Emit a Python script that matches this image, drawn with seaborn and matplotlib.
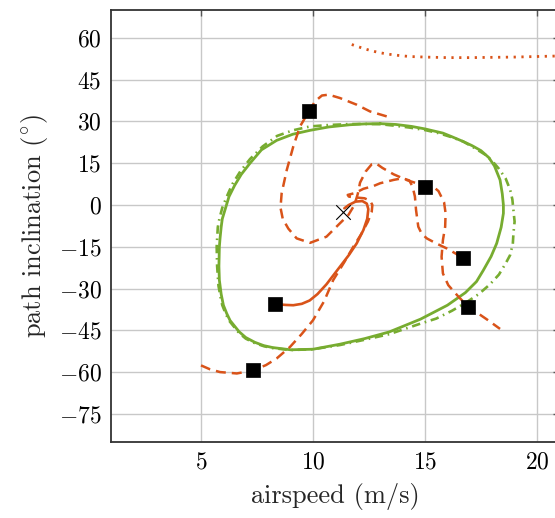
import numpy as np
import pandas as pd
import matplotlib
matplotlib.use("Agg")
import matplotlib.pyplot as plt
import seaborn as sns

# ---------------- data ----------------
green_solid_x = [13.0, 12.3, 11.65, 10.7, 9.87, 9.1, 8.38, 7.7, 7.19, 6.8, 6.5, 6.25, 6.1, 5.95,
                 5.9, 5.85, 5.82, 5.8, 5.82, 5.9, 6.0, 6.15, 6.3, 6.7, 7.0, 7.4, 7.8, 8.2, 9.0,
                 10.0, 11.2, 12.3, 13.4, 14.8, 16.0, 16.8, 17.3, 17.6, 17.95, 18.2, 18.4, 18.5,
                 18.5, 18.45, 18.35, 18.1, 17.85, 17.5, 17.1, 16.7, 16.2, 15.8, 15.0, 14.4, 13.7, 13.0]
green_solid_y = [29.2, 29.1, 28.8, 28.0, 26.8, 25.4, 23.2, 19.8, 15.0, 11.0, 7.0, 3.0, -1.0, -5.0,
                 -8.0, -12.0, -15.0, -22.0, -27.0, -32.0, -36.0, -39.0, -41.5, -45.5, -47.6, -49.3,
                 -50.5, -51.2, -52.0, -51.8, -50.0, -48.0, -45.6, -41.0, -36.0, -31.5, -27.5, -23.5,
                 -18.5, -13.8, -8.0, -3.0, 0.0, 4.0, 9.0, 14.0, 17.0, 19.5, 21.3, 22.8, 24.5, 25.8,
                 27.3, 28.2, 28.9, 29.2]

green_dd_x = [13.0, 12.2, 11.5, 10.7, 9.87, 9.1, 8.4, 7.75, 7.19, 6.75, 6.4, 6.15, 5.95, 5.82,
              5.75, 5.7, 5.72, 5.78, 5.87, 5.95, 6.1, 6.25, 6.7, 7.0, 7.4, 7.8, 8.2, 9.0, 10.0,
              11.2, 12.3, 13.4, 14.8, 15.5, 16.2, 16.8, 17.4, 17.9, 18.3, 18.6, 18.8, 18.92,
              18.95, 19.0, 18.95, 18.9, 18.8, 18.6, 18.3, 18.0, 17.7, 17.2, 16.7, 16.2, 15.6,
              15.0, 14.3, 13.6, 13.0]
green_dd_y = [29.0, 29.1, 29.0, 28.7, 28.2, 26.8, 24.8, 21.0, 16.5, 12.0, 7.5, 3.0, -1.0, -5.0,
              -8.0, -15.0, -22.0, -29.0, -33.0, -36.0, -39.0, -41.5, -46.0, -48.0, -49.6, -50.7,
              -51.4, -52.1, -51.8, -50.3, -48.4, -46.4, -42.6, -40.8, -38.0, -35.2, -32.0, -28.5,
              -25.0, -21.0, -18.0, -14.0, -10.0, -6.0, -2.0, 2.0, 5.5, 9.5, 13.0, 15.8, 18.0,
              20.5, 22.8, 24.3, 25.8, 26.9, 27.8, 28.5, 29.0]

orange_solid_x = [8.30, 8.8, 9.12, 9.5, 9.85, 10.2, 10.6, 11.2, 11.6, 11.95, 12.25, 12.42, 12.47,
                  12.4, 12.2, 11.9, 11.6, 11.4]
orange_solid_y = [-35.6, -35.9, -36.0, -35.5, -34.3, -32.0, -28.5, -22.2, -18.0, -13.8, -9.0, -5.0, -1.5,
                  0.5, 1.4, 1.2, 0.0, -1.2]

dashed_a_x = [5.0, 5.4, 5.85, 6.6, 7.33, 7.9, 8.38, 8.97, 9.5, 10.0, 10.5, 10.9, 11.4, 11.8, 12.15,
              12.45, 12.62, 12.65, 12.55, 12.3, 11.9, 11.6, 11.55, 11.88, 12.25, 12.7, 13.0, 13.6,
              14.0, 14.3, 14.45, 14.55, 14.6, 14.7, 14.85, 15.08, 15.5, 15.97, 16.4, 16.68]
dashed_a_y = [-57.6, -59.0, -60.0, -60.5, -59.4, -57.5, -55.1, -51.0, -46.3, -41.4, -34.5, -27.0, -20.5,
              -15.0, -10.5, -6.0, -2.5, 0.0, 1.5, 2.4, 2.7, 3.0, 3.6, 4.3, 5.8, 6.8, 7.8, 9.0,
              9.6, 8.8, 6.5, 3.0, -1.8, -7.8, -10.3, -12.0, -13.8, -15.6, -17.6, -19.2]

dashed_b_x = [13.29, 12.54, 11.95, 11.2, 10.7, 10.4, 10.09, 9.84, 9.42, 9.12, 8.83, 8.6, 8.55, 8.65,
              8.9, 9.27, 9.87, 10.6, 11.2, 11.58, 11.85, 12.0, 12.1, 12.35, 12.62, 12.8, 13.1, 13.6,
              14.2, 14.7, 15.0, 15.3, 15.6, 15.85, 15.92, 15.9, 15.8, 15.74, 15.8, 16.04, 16.5,
              16.94, 17.2, 17.8, 18.35]
dashed_b_y = [31.8, 33.6, 36.0, 38.4, 39.6, 39.3, 37.2, 33.9, 28.2, 21.0, 12.6, 4.2, -1.0, -5.0,
              -8.5, -12.0, -13.6, -11.4, -6.6, -3.6, 0.0, 4.0, 8.0, 12.0, 14.6, 15.0, 13.3, 11.0,
              8.9, 7.6, 7.3, 7.0, 5.0, 1.0, -3.0, -7.8, -12.6, -18.6, -24.6, -28.8, -33.0,
              -36.6, -38.0, -41.3, -44.5]

dotted_x = [11.73, 12.1, 12.5, 12.9, 13.3, 13.8, 14.3, 15.0, 16.0, 17.0, 18.0, 19.0, 20.0, 21.0]
dotted_y = [57.6, 56.6, 55.6, 54.8, 54.2, 53.7, 53.3, 53.1, 52.9, 52.9, 53.0, 53.1, 53.3, 53.5]

square_x = [9.84, 15.0, 16.68, 16.94, 8.30, 7.33]
square_y = [33.9, 6.4, -19.2, -36.6, -35.6, -59.4]

cross_x = [11.35]
cross_y = [-2.4]

x_ticks = [5, 10, 15, 20]
y_ticks = [60, 45, 30, 15, 0, -15, -30, -45, -60, -75]

ORANGE = "#D95319"
GREEN = "#77AC30"

# ---------------- style ----------------
sns.set_style("whitegrid", {"grid.color": "#c8c8c8", "axes.edgecolor": "#333333"})
plt.rcParams["font.family"] = ["cmr10"]
plt.rcParams["mathtext.fontset"] = "cm"
plt.rcParams["axes.formatter.use_mathtext"] = True
plt.rcParams["axes.unicode_minus"] = True

fig = plt.figure(figsize=(5.55, 5.18), dpi=100)
ax = fig.add_axes([111.4 / 555, (518 - 441.7) / 518, 448 / 555, 431.7 / 518])

def line(xs, ys, **kw):
    df = pd.DataFrame({"x": xs, "y": ys})
    sns.lineplot(data=df, x="x", y="y", sort=False, estimator=None, ax=ax, **kw)

line(green_dd_x, green_dd_y, color=GREEN, lw=1.9, linestyle=(0, (3.2, 1.8, 0.6, 1.8)), zorder=3)
line(green_solid_x, green_solid_y, color=GREEN, lw=2.0, zorder=3)
line(dashed_a_x, dashed_a_y, color=ORANGE, lw=1.8, linestyle=(0, (4.0, 2.4)), zorder=4)
line(dashed_b_x, dashed_b_y, color=ORANGE, lw=1.8, linestyle=(0, (4.0, 2.4)), zorder=4)
line(orange_solid_x, orange_solid_y, color=ORANGE, lw=1.9, zorder=4)
line(dotted_x, dotted_y, color=ORANGE, lw=2.0, linestyle=(0, (0.8, 2.0)), zorder=4)

sns.scatterplot(x=square_x, y=square_y, marker="s", s=90, color="black",
                edgecolor="black", linewidth=0.5, zorder=6, ax=ax)
sns.scatterplot(x=cross_x, y=cross_y, marker="x", s=110, color="black",
                linewidth=0.8, zorder=7, ax=ax)

ax.set_xlim(1, 21)
ax.set_ylim(-85, 70)
ax.set_xticks(x_ticks)
ax.set_yticks(y_ticks)
ax.grid(True, color="#c8c8c8", lw=1.0)
ax.tick_params(direction="in", length=4, width=1, color="#555555", labelcolor="black",
               top=True, right=True, labelsize=17, pad=7)
for s in ax.spines.values():
    s.set_color("#333333")
    s.set_linewidth(1.3)

ax.set_xlabel("airspeed (m/s)", fontsize=19, labelpad=7)
ax.set_ylabel(r"path inclination $(^{\circ})$", fontsize=19, labelpad=6)

fig.savefig("out.png", dpi=100)
